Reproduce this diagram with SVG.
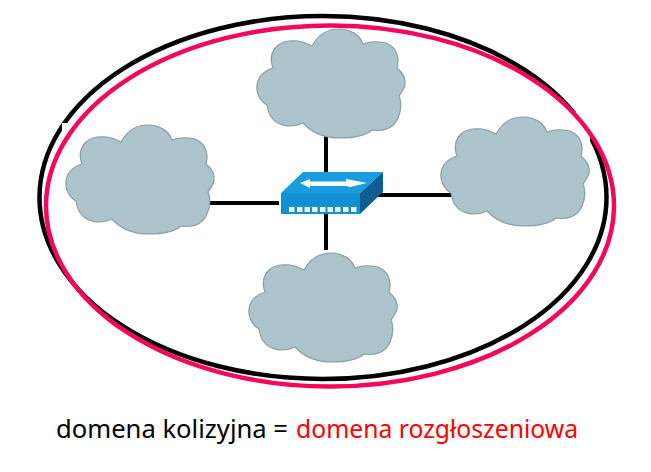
<svg xmlns="http://www.w3.org/2000/svg" width="651" height="472" viewBox="0 0 651 472">
<style>
.ring{fill:none;stroke-width:4.500}
.link{stroke:#000;stroke-width:4;fill:none}
.cloud{fill:#aec4cc;stroke:#8a9ea6;stroke-width:1.200}
text{font-family:"Noto Sans","DejaVu Sans",sans-serif;font-size:26px}
</style>
<defs>
<path id="c" d="M72,31 C78,20 88,14 99,14 C110,14 120,20 123,29 C130,26 142,26 148,29 C156,33 160,42 157,53 C163,58 166,64 165,70 C164,74 161,78 159,81 C162,88 161,96 158,103 C154,112 146,117 132,115 C125,121 113,123 100,123 C85,123 72,118 63,108 C55,112 45,112 38,108 C32,105 28,98 27,90 C20,86 16,78 17,70 C18,62 24,56 33,53 C30,45 31,37 37,31 C45,24 60,24 72,31 Z"/>
</defs>
<g id="ring-black"><ellipse class="ring" cx="323" cy="197.500" rx="283.500" ry="181.500" stroke="#000"/></g>
<rect x="62" y="123" width="60" height="50" fill="#fff"/>
<rect x="480" y="112" width="110" height="60" fill="#fff"/>
<g id="ring-red"><ellipse class="ring" cx="330" cy="206" rx="284" ry="180.500" stroke="#f5085c"/></g>
<g id="connectors">
<line class="link" x1="326" y1="136" x2="326" y2="172"/>
<line class="link" x1="326" y1="212" x2="326" y2="250"/>
<line class="link" x1="207" y1="203" x2="279" y2="203"/>
<line class="link" x1="372" y1="195" x2="454" y2="195"/>
</g>
<g id="cloud-top"><use href="#c" class="cloud" transform="translate(240,15)"/></g>
<g id="cloud-left"><use href="#c" class="cloud" transform="translate(49,111)"/></g>
<g id="cloud-right"><use href="#c" class="cloud" transform="translate(424,103)"/></g>
<g id="cloud-bottom"><use href="#c" class="cloud" transform="translate(232,239)"/></g>
<g id="switch">
<polygon points="303,172 383,172 360,193 281,193" fill="#1a9de0"/>
<polygon points="281,193 360,193 360,214 281,214" fill="#1190d4"/>
<polygon points="360,193 383,172 383,192 360,214" fill="#0b5f92"/>
<path d="M300,183 L310,179 L310,181.500 L346,181.500 L346,179 L367,183 L350,187 L346,186 L310,186 L310,188 Z" fill="#fff"/>
<path d="M289,207h5.500v5h-5.500zM297,207h5.500v5h-5.500zM304.500,207h5.500v5h-5.500zM312,207h5.500v5h-5.500zM320,207h5.500v5h-5.500zM327.500,207h5.500v5h-5.500zM335,207h5.500v5h-5.500zM343,207h5.500v5h-5.500zM351,207h5.500v5h-5.500z" fill="#e8f4fb"/>
</g>
<g id="caption">
<text x="56" y="438" fill="#000" textLength="232" lengthAdjust="spacingAndGlyphs">domena kolizyjna =</text>
<text x="296" y="438" fill="#ff0000" textLength="282" lengthAdjust="spacingAndGlyphs">domena rozgłoszeniowa</text>
</g>
</svg>
